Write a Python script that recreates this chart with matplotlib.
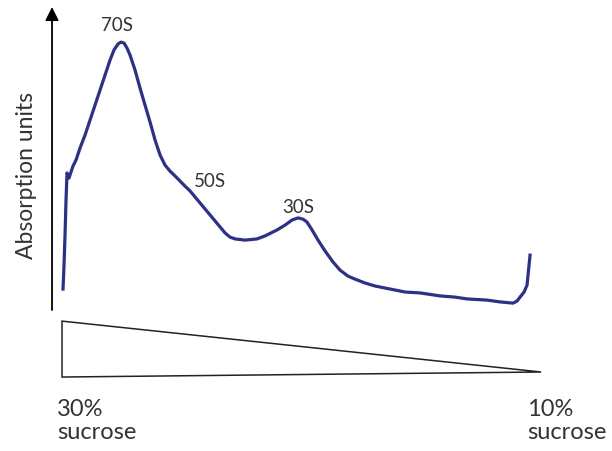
"""Sucrose gradient profile of ribosomal subunits (absorption vs. gradient position)."""
import matplotlib
matplotlib.use("Agg")
import matplotlib.pyplot as plt
from matplotlib.patches import Polygon

# gradient position (fraction number, 30% sucrose -> 10% sucrose) and absorption (a.u.)
fraction = [0.1, 0.2, 0.3, 0.4, 0.5, 0.7, 0.9, 1.1, 1.4, 1.8, 2.3, 2.8, 3.3, 3.8, 4.3,
            4.8, 5.2, 5.6, 5.9, 6.2, 6.5, 6.8, 7.3, 7.8, 8.3, 8.8, 9.3, 9.8, 10.3, 10.8,
            11.3, 11.8, 12.3, 12.8, 13.3, 13.8, 14.3, 14.8, 15.3, 15.8, 16.3, 16.8, 17.3,
            18.3, 19.5, 20.3, 21.5, 22.3, 23.0, 23.6, 24.1, 24.5, 25.0, 25.6, 26.3, 27.1,
            27.8, 28.6, 29.3, 30.3, 31.3, 32.8, 34.3, 35.8, 37.8, 39.3, 40.5, 42.5, 43.8,
            45.1, 45.5, 45.8, 46.2, 46.5, 46.6, 46.7, 46.8]
absorption = [7.0, 15.0, 25.0, 36.7, 45.7, 44.0, 46.0, 48.0, 50.0, 54.0, 58.3, 63.3, 68.3,
              73.3, 78.3, 83.3, 86.7, 88.7, 89.3, 89.0, 87.3, 85.0, 80.0, 74.0, 68.3, 62.7,
              56.7, 51.7, 48.3, 46.3, 44.7, 43.0, 41.3, 39.7, 37.7, 35.7, 33.7, 31.7, 29.7,
              27.7, 25.7, 24.3, 23.7, 23.3, 23.7, 24.7, 26.7, 28.3, 30.0, 30.7, 30.3, 29.3,
              26.7, 23.3, 19.7, 16.0, 13.3, 11.3, 10.3, 9.0, 8.0, 7.0, 6.0, 5.7, 4.7, 4.3,
              3.7, 3.3, 2.7, 2.3, 3.0, 4.3, 6.0, 8.3, 11.7, 15.0, 18.3]

peak_labels = ["70S", "50S", "30S"]
peak_x = [5.5, 14.8, 23.6]
peak_y = [95.0, 42.7, 34.3]

# sucrose wedge (relative height of gradient)
wedge_x = [0, 0, 47.9]
wedge_y = [0, 1, 0.09]
end_labels = ["30%\nsucrose", "10%\nsucrose"]
end_x = [-0.5, 46.5]

plt.rcParams["font.family"] = ["Lato", "DejaVu Sans"]
LINE = "#2b2f8f"
TXT = "#333333"

fig = plt.figure(figsize=(6.12, 4.51), dpi=100)
ax = fig.add_axes([0.085, 0.3126, 0.8056, 0.6718])
ax.plot(fraction, absorption, color=LINE, lw=2.3, solid_joinstyle="round")
ax.set_xlim(-1.0, 48.3)
ax.set_ylim(0, 101)
for s in ax.spines.values():
    s.set_visible(False)
ax.set_xticks([])
ax.set_yticks([])
ax.annotate("", xy=(0, 1.0), xytext=(0, 0), xycoords="axes fraction",
            arrowprops=dict(arrowstyle="-|>", lw=1.3, color="black", mutation_scale=20,
                            shrinkA=0, shrinkB=0))
for lab, x, y in zip(peak_labels, peak_x, peak_y):
    ax.text(x, y, lab, ha="center", va="center", fontsize=13.5, color=TXT)
ax.text(-3.6, 45, "Absorption units", rotation=90, ha="center", va="center",
        fontsize=16.5, color=TXT)

gx = fig.add_axes([0.085, 0.164, 0.8056, 0.124])
gx.set_xlim(-1.0, 48.3)
gx.set_ylim(0, 1)
gx.axis("off")
gx.add_patch(Polygon(list(zip(wedge_x, wedge_y)), closed=True, fill=False,
                     edgecolor="#222222", lw=1.1, clip_on=False))
for lab, x in zip(end_labels, end_x):
    gx.text(x, -0.40, lab, ha="left", va="top", fontsize=17, color=TXT,
            linespacing=1.1)

fig.savefig("out.png", dpi=100)
